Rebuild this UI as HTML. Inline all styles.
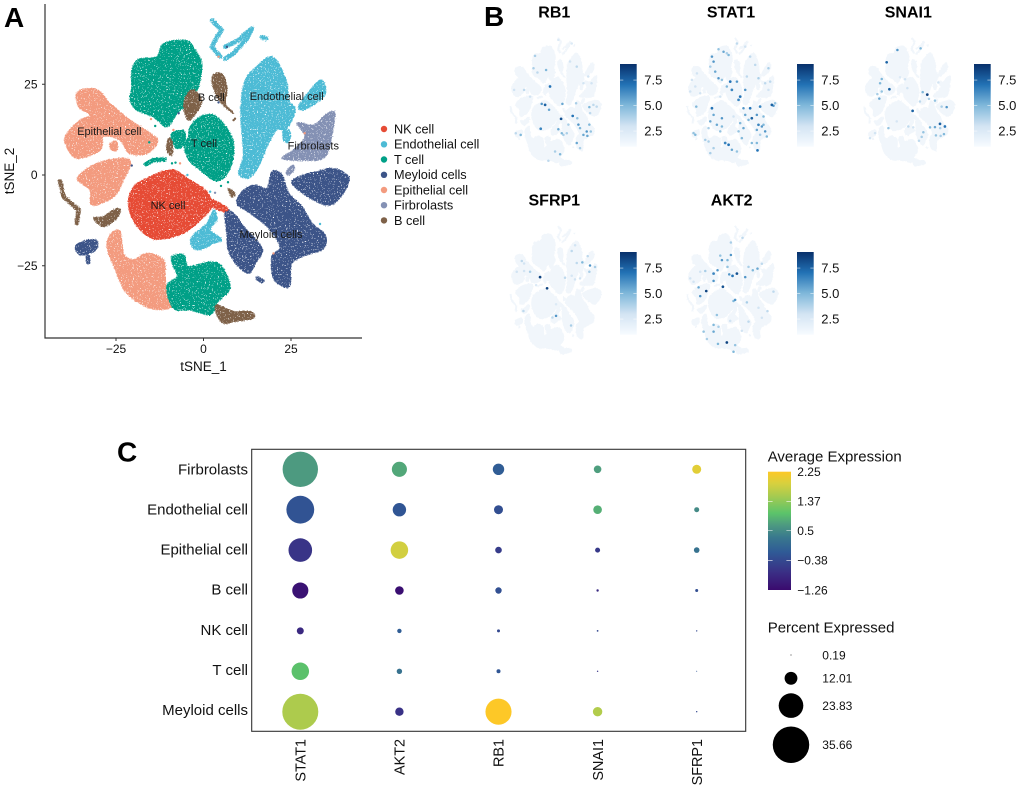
<!DOCTYPE html>
<html lang="en">
<head>
<meta charset="utf-8">
<title>Single-cell expression figure</title>
<style>
html,body{margin:0;padding:0;background:#fff;}
svg{display:block;font-family:"Liberation Sans",Arial,sans-serif;}
</style>
</head>
<body>
<svg id="figure" xmlns="http://www.w3.org/2000/svg" width="1020" height="791" viewBox="0 0 1020 791">
<defs>
<filter id="speckle" x="40" y="0" width="330" height="340" filterUnits="userSpaceOnUse" color-interpolation-filters="sRGB">
<feTurbulence type="fractalNoise" baseFrequency="0.75" numOctaves="2" seed="4" result="n"/>
<feDisplacementMap in="SourceGraphic" in2="n" scale="3" xChannelSelector="R" yChannelSelector="G" result="rough"/>
<feColorMatrix in="n" type="matrix" values="0 0 0 0 0 0 0 0 0 0 0 0 0 0 0 -12 0 0 0 8.8" result="mask"/>
<feComposite in="rough" in2="mask" operator="in"/>
</filter>
<filter id="roughEdge" x="500" y="25" width="520" height="340" filterUnits="userSpaceOnUse" color-interpolation-filters="sRGB">
<feTurbulence type="fractalNoise" baseFrequency="0.5" numOctaves="2" seed="7" result="n"/>
<feDisplacementMap in="SourceGraphic" in2="n" scale="2" xChannelSelector="R" yChannelSelector="G"/>
</filter>
<linearGradient id="blues-gradient" x1="0" y1="1" x2="0" y2="0">
<stop offset="0" stop-color="#f7fbff"/>
<stop offset="0.25" stop-color="#d3e4f3"/>
<stop offset="0.5" stop-color="#7fb8da"/>
<stop offset="0.75" stop-color="#2272b5"/>
<stop offset="1" stop-color="#08306b"/>
</linearGradient>
<linearGradient id="viridis-gradient" x1="0" y1="1" x2="0" y2="0">
<stop offset="0" stop-color="#3a0a6e"/>
<stop offset="0.15" stop-color="#3a2f85"/>
<stop offset="0.32" stop-color="#2f5a96"/>
<stop offset="0.45" stop-color="#3a7a8d"/>
<stop offset="0.55" stop-color="#4d9a80"/>
<stop offset="0.65" stop-color="#5cc46a"/>
<stop offset="0.8" stop-color="#a9cb4f"/>
<stop offset="0.9" stop-color="#d7d03e"/>
<stop offset="1" stop-color="#fdc827"/>
</linearGradient>
</defs>

<text x="4" y="27" font-size="28" font-weight="bold" fill="#000">A</text>
<text x="484" y="26" font-size="28" font-weight="bold" fill="#000">B</text>
<text x="117" y="461.5" font-size="28" font-weight="bold" fill="#000">C</text>

<g id="tsne-plot"></g>
<line x1="45" y1="4" x2="45" y2="338.5" stroke="#333" stroke-width="1.2"/>
<line x1="44.5" y1="338" x2="362" y2="338" stroke="#333" stroke-width="1.2"/>
<text x="203.5" y="371" font-size="13.5" text-anchor="middle" fill="#111">tSNE_1</text>
<text transform="translate(14,171) rotate(-90)" font-size="13.5" text-anchor="middle" fill="#111">tSNE_2</text>

<g font-size="12.7" fill="#111">
<g><circle cx="384" cy="129" r="3.2" fill="#E64B35"/><text x="394" y="133.4">NK cell</text></g>
<g><circle cx="384" cy="144.3" r="3.2" fill="#4DBBD5"/><text x="394" y="148.7">Endothelial cell</text></g>
<g><circle cx="384" cy="159.5" r="3.2" fill="#00A087"/><text x="394" y="163.9">T cell</text></g>
<g><circle cx="384" cy="174.8" r="3.2" fill="#3C5488"/><text x="394" y="179.2">Meyloid cells</text></g>
<g><circle cx="384" cy="190" r="3.2" fill="#F39B7F"/><text x="394" y="194.4">Epithelial cell</text></g>
<g><circle cx="384" cy="205.2" r="3.2" fill="#8491B4"/><text x="394" y="209.6">Firbrolasts</text></g>
<g><circle cx="384" cy="220.4" r="3.2" fill="#7E6148"/><text x="394" y="224.8">B cell</text></g>
</g>

<g font-size="11" fill="#1a1a1a" text-anchor="middle">
<text x="109.3" y="135">Epithelial cell</text>
<text x="204" y="147">T cell</text>
<text x="211.3" y="101">B cell</text>
<text x="286.7" y="100">Endothelial cell</text>
<text x="313.3" y="149.5">Firbrolasts</text>
<text x="168" y="209">NK cell</text>
<text x="271" y="238">Meyloid cells</text>
</g>

<g id="feature-plots"></g>
<g font-size="16" font-weight="bold" fill="#000" text-anchor="middle">
<text x="554.3" y="17.7">RB1</text>
<text x="731" y="17.7">STAT1</text>
<text x="908.3" y="17.7">SNAI1</text>
<text x="554.3" y="205.7">SFRP1</text>
<text x="731.7" y="205.7">AKT2</text>
</g>

<g id="dot-plot"></g>
<rect x="251.7" y="449.3" width="494" height="282" fill="none" stroke="#333" stroke-width="1.1"/>

<text x="767.7" y="461.7" font-size="15" fill="#111">Average Expression</text>
<rect x="768" y="471.7" width="23" height="118.3" fill="url(#viridis-gradient)"/>
<g id="avg-legend"></g>
<text x="767.7" y="632.7" font-size="15" fill="#111">Percent Expressed</text>
<g id="pct-legend"></g>
</svg>

<script>
/* ---------- Panel A data: cluster outlines in tSNE coordinates ---------- */
const nkOutlines = [
 [[-18.1,-1.8],[-9.5,1.4],[-3.8,-1.4],[0.95,-4.6],[2.4,-8.7],[-0.95,-12.4],[-5.7,-16],[-13.3,-17.7],[-18.1,-15.1],[-20.95,-10.5],[-21.4,-6.9],[-20.5,-4.1]],
 [[1.4,-6.4],[6.7,-9],[5.7,-10],[1.4,-8.2]]
];
const endoOutlines = [
 [[11.9,26.1],[15.7,30.3],[19,32.6],[21.4,30.7],[23.8,25.2],[24.3,20.6],[26.2,17.9],[23.8,12.8],[20.95,12.4],[18.1,7.8],[15.7,2.3],[12.9,-0.9],[10,0.5],[11.4,5],[10.95,11.5],[10.7,18.8]],
 [[27.6,19.7],[33.3,26.1],[34.8,22.5],[31.4,19.3],[28,17.9]],
 [[22.9,12.4],[24.8,11.9],[24.3,9.2],[22.9,9.6]],
 [[2.9,-9.6],[3.8,-12.4],[1.9,-15.1],[5.2,-17.9],[2.9,-18.8],[-0.95,-20.6],[-3.3,-19.7],[-3.3,-17],[0.95,-13.3]]
];
const endoStrands = [
 [[2.4,42.6],[5.2,39.9],[3.8,38],[2.4,35.3],[4.8,32.6]],
 [[6.2,35.3],[10,37.2],[13.8,40.4],[12.4,37.6],[8.6,33.5],[6.2,32]],
 [[16.7,38],[17.9,37.6]]
];
const tcellOutlines = [
 [[-20.5,28.9],[-18.6,31.8],[-13.3,32.6],[-11.4,36.2],[-4.8,37],[-2.4,34.4],[-0.5,30.7],[-1,26.1],[-1.9,23.4],[-4.8,22.5],[-5.7,18.8],[-7.6,17],[-10.5,13.3],[-14.3,16],[-19,17.9],[-21,20.6],[-20.5,24.3]],
 [[-3.8,13.3],[-1,16],[2.9,16.5],[6.7,12.8],[8.6,8.7],[8.1,3.2],[5.7,-0.9],[2.9,-1.4],[-1,1.4],[-4.2,4.1],[-5.5,7.8],[-4.3,10.5]],
 [[-9,11.5],[-5.7,12.2],[-5.4,8.7],[-7.6,7.3],[-9,9.6]],
 [[-9,-22.5],[-5.7,-22],[-4.3,-25.2],[1.9,-23.9],[5.2,-25.2],[7.6,-30.7],[5.7,-33.5],[3.8,-35.3],[1.9,-38.5],[-3.8,-37.2],[-8.6,-36.7],[-10.5,-30.7],[-7.6,-28],[-8.6,-25.2]]
];
const tcellStrands = [
 [[-16.5,3],[-14.3,4.1],[-11.2,4.3]]
];
const myeloidOutlines = [
 [[25.2,-1.8],[28.6,0],[32.4,0.9],[37.1,1.8],[41.4,-0.5],[40,-5],[36.2,-8.3],[31.4,-6.9],[27.1,-4.1]],
 [[11.4,-4.2],[14.8,-2.8],[18.1,-3.7],[19.5,0.9],[22.4,0],[24.3,-5],[28.1,-8.7],[31,-13.3],[34.8,-16.5],[34.3,-20.2],[29.5,-22],[25.2,-24.3],[24.8,-29.8],[23.3,-30.9],[20,-28.4],[19.5,-22.5],[21.9,-19.7],[18.1,-14.2],[13.3,-10.5],[9.5,-7.8]],
 [[6.2,-9.6],[9.5,-11.5],[11.4,-14.2],[16.7,-20.2],[14.8,-24.3],[12.9,-27],[9.5,-24.8],[7.1,-20.6],[6.7,-16]],
 [[-36.4,-19.3],[-31,-17.7],[-30.7,-20.6],[-35.2,-22]]
];
const myeloidStrands = [
 [[-33,-22.5],[-33,-24]],
 [[15.5,-28.5],[16.8,-29.2]]
];
const epiOutlines = [
 [[-36,22.9],[-30.5,23.5],[-26.7,19.7],[-20.95,15.1],[-15.2,11.5],[-13.1,9.2],[-16,6],[-21.2,6],[-23.8,9.6],[-28.6,10.6],[-29.5,6.9],[-35.7,4.6],[-38.6,6.9],[-39.5,10.6],[-35.7,14.8],[-32.4,16.5],[-35.7,18.8]],
 [[-26.7,8.7],[-24.8,9.2],[-24.8,6.9],[-26.2,6.9]],
 [[-36,-0.9],[-30.5,3.2],[-22.9,4.6],[-20.9,3.2],[-22.9,-1.4],[-25.7,-6],[-31.9,-8.3],[-32.4,-4.1]],
 [[-26.2,-16],[-23.8,-15.6],[-22.9,-21.6],[-20,-23.4],[-16.2,-21.6],[-11.4,-23.4],[-10.95,-28],[-10.5,-32.6],[-9,-36.3],[-15.2,-36.7],[-21.9,-32.6],[-24.8,-27],[-27.6,-19.7]]
];
const fibroOutlines = [
 [[37.4,17.4],[37.1,13.3],[34.7,5],[27.6,4.1],[22.4,4.6],[25.7,6.9],[29,10.6],[26.7,14.3],[31.4,13.8],[34.8,16.5]],
 [[23.6,0.6],[25.2,2.6],[26,2],[24.6,0]]
];
const bcellOutlines = [
 [[-2.9,23.4],[-0.5,20.6],[-1.9,17.4],[-4.3,15.1],[-5.7,18.8],[-4.8,22]],
 [[3.3,28],[5.7,27.5],[6.7,23.4],[6.2,19.7],[8.6,17],[6.7,18.3],[3.8,21.6],[2.4,26.1]],
 [[-10,10],[-9,9.2],[-9,5.5],[-10.5,6.9]],
 [[-31.4,-11.9],[-28.6,-11.5],[-25.7,-9.6],[-23.8,-9.6],[-24.8,-11.9],[-28.6,-14.2]],
 [[3.8,-35.8],[8.6,-37.6],[13.3,-37.6],[14.3,-39.4],[8.6,-40.4],[5.7,-40.8],[3.8,-38.5]],
 [[7.1,-3.7],[9,-5],[8.1,-6]]
];
const bcellStrands = [
 [[-41,-1.8],[-40,-6],[-35.7,-9.6],[-36.2,-13.3]]
];
const mainXTicks = [-25, 0, 25];
const mainYTicks = [25, 0, -25];
const strayEpi = [[4.3,32.6],[28.9,11.5],[20,-21.6],[-15,15.4],[-6.7,3.2],[-8.6,12.4]];
const strayMyeloid = [[6.7,35.3],[-20.5,2.6],[-7.1,17],[4.3,20]];
const strayEndo = [[-4.6,0],[1.9,-4.6],[33.3,-13.5]];
const strayFibro = [[3.3,-4.9]];
const strayB = [[8.6,15.1],[9,15.5]];
const strayT = [[-13.8,13.5],[-9,3.2],[-8,3.4],[-15.5,9],[5,-3],[7,-2]];

/* ---------- Panel B data: expressing cells as [tSNE x, tSNE y, expression] ---------- */
const rb1Spots = [[-18.6,30.9,4],[-20,22.8,4],[-8.5,21.7,5],[-16.4,20,3.5],[-4.9,10.9,7],[-9.4,-1.1,7.5],[-12.5,-0.4,6],[-5.8,-4.3,5.5],[-13.4,-16.7,6.5],[5.2,-10.2,8],[6.4,-0.4,5.5],[15.8,-8.3,7],[20,-9.8,4.5],[18.9,0,4],[31,-2.6,5],[34.7,-1.1,3.5],[37.7,-2.2,3.5],[31.7,-6.5,3.5],[21,-14,6],[22.5,-16.3,5],[25.6,-20.7,5.5],[28.6,-18.5,6],[31,-14,5],[29.2,-21.3,5.5],[32.3,-18.5,4.5],[19.5,-26,5.5],[22.5,-29.3,4],[5.8,-19.6,5],[2.7,-17,5.5],[7.3,-20.7,4],[10.4,-19.6,4],[4.3,-33.3,5],[-0.3,-31.5,4],[-6.4,-37.6,3.5],[-31.7,-20.7,5],[-36.2,-19.6,3.5],[-28.6,8.7,3.5],[-37.7,8.7,3],[-23.1,4.3,3],[30,17.4,3],[25.6,13,3],[14.9,39,2.5],[2.7,41.3,2.5],[19.5,23.9,3.5],[13.4,27.2,3],[33,13,3],[11.9,-14,4]];
const stat1Spots = [[-18.5,30.4,6],[-17,27.1,6],[-20,23.9,4],[-7.9,33.6,5.5],[-12.5,35.2,4.5],[-3.3,31.5,5],[-4.9,32.6,4],[-15.5,20.6,5.5],[-12.5,16.3,6],[-9.4,15.2,4.5],[-1.8,14.1,7],[4.3,14.1,6],[-0.3,8.7,6.5],[-4.9,10.9,5],[11.9,8.7,6],[7.3,4.3,7],[5.8,2.2,6.5],[10.3,-3.3,6],[16.4,-3.3,7],[11.9,-7.6,5.5],[17.9,-9.8,7.5],[14.9,-10.9,5],[22.5,-7.6,6],[25.5,-2.2,6.5],[36.2,-1.1,7.5],[37.7,-1.7,6],[39.2,0,4.5],[28.6,-8.7,5],[24,-14.1,6.5],[27.1,-15.2,6],[22.5,-17.4,5.5],[30.1,-18.4,6],[31.6,-21.7,5],[25.5,-20.6,4],[28.6,-14.1,5],[23.1,-30.8,7],[17.9,-26,5],[22.5,-26,5],[10.3,-16.3,5.5],[7.3,-13,5],[5.8,-18.4,4.5],[8.8,-22.8,5],[-6.4,-26,6.5],[-3.3,-27.1,7],[-0.3,-30.4,5.5],[4.3,-31.5,4.5],[-10.9,-18.4,4.5],[-9.4,-15.2,5],[-14,-14.1,5.5],[-9.4,-9.8,6],[-18.5,-3.3,7],[-17,-7.6,5.5],[-20,-11.9,5.5],[-21.6,-16.3,4],[-33.7,-20.6,5],[-35.3,-19.5,4.5],[-32.8,-2.2,5],[-24.6,-23.9,4],[-21.6,-25,4],[-17,-29.3,4],[-20,-32.6,4],[-32.2,19.5,3],[-36.8,15.2,3],[-33.7,10.9,3],[-38.3,7.6,3],[-29.2,6.5,3],[16.4,30.4,3.5],[21,25,3.5],[24,16.3,4],[13.4,17.4,3.5],[33.1,22.8,4],[30.1,13,3.5],[34.7,14.1,3.5],[33.1,8.7,3],[4.3,39,3.5],[11.9,36.9,3],[-10.9,4.3,3],[1.2,-8.7,3]];
const snai1Spots = [[-10.6,34.7,6],[-20.4,26.7,7.5],[-24.9,15.8,5],[-26.4,13,5],[-17.9,9.1,7.5],[-24.9,7.6,4.5],[-28.9,5.9,4],[-27.1,3,5.5],[10.6,35.8,5],[16.7,5.6,8.5],[12.5,7.2,5],[18.2,2.8,4],[23.7,1.7,4.5],[10,1.1,3.5],[3.3,-5,7.5],[34.4,-2.6,6],[29.8,-2.2,4],[28.3,-13.5,7.5],[32.8,-15.2,7],[23.7,-15.6,5.5],[19.2,-15.8,5],[28.5,-16.3,4],[31.9,-20.2,5],[24.6,-21,4.5],[28.9,-21.3,4],[13.1,-19,4.5],[11.6,-22,4],[9.1,-24.5,3.5],[-0.6,-15.2,3.5],[3.9,-15.8,3],[-18.8,-16.3,4.5],[-11.2,-11.9,2.8],[-1.5,9.8,3],[-8.2,16.9,2.5],[-3.6,15.6,3],[26.8,13.5,3],[-31,-19.5,3],[-35.6,-22.8,3]];
const sfrp1Spots = [[-14,9.2,8.5],[-7.6,1.9,8.5],[31.6,16.8,6],[36.2,15.8,4],[24.6,18.8,5],[19.5,18.4,3.5],[29.5,22.9,3.5],[31,12.7,4],[14.9,26.2,3.5],[18,30,3],[22.5,8.4,3],[17.9,7.7,3],[8.8,8.8,3.5],[14.9,10.1,2.8],[0.6,-16.1,6],[-2.7,-17.2,3.5],[14.3,-22.4,4],[0.6,-8.5,2.5],[-29.2,-12.9,3.5],[-30.7,19.7,3.5],[-28.6,18.1,3],[-35.3,12.7,3],[-28.6,13.2,3],[-23.1,12.7,4],[-17.6,4,2.5]];
const akt2Spots = [[-1.2,31.8,4],[9.4,34.9,3.5],[-9.4,20.3,6],[-10.9,23.2,4.5],[-1.2,23.6,6],[-4.3,20.3,5],[-4.3,15.9,4.5],[-13.4,13.7,6],[-17,11.5,6.5],[-2.7,11,6],[0.3,10,7],[4.3,11.5,8],[11.9,9.2,6],[-17,6.7,6],[-8.5,2.9,8],[-23.7,0.1,8.5],[-29.2,-3.2,6],[-30.7,2.5,5.5],[-24.6,13.2,4],[2.7,-5.7,6],[1.2,-6.4,5],[13.4,-7.3,4],[23.1,14.7,5.5],[18.8,13.7,5],[27.1,17.9,3.5],[14.9,15.9,4],[-14,-15.5,4.5],[-17,-22,5],[-17,-26.4,5.5],[-26.1,-26.4,4.5],[-23.1,-31.2,4],[-4.9,-33.5,8.5],[-13,-34.4,5],[1.2,-39.5,5],[2.7,-35.2,4.5],[-12.5,-23.2,4],[32.2,-13,3.5],[27.1,-17.3,3],[14.9,-19.9,3.5],[-1.8,-19.4,3],[37.7,-0.3,3.5],[8.8,-25.8,3],[24,-10.8,3],[-35.3,6.2,3],[-38.3,8.4,3],[-29.2,12.7,3]];
const featureTicks = [7.5, 5, 2.5];
const featureTickLabels = ["7.5", "5.0", "2.5"];

/* ---------- Panel C data ---------- */
const dotRows = ["Firbrolasts","Endothelial cell","Epithelial cell","B cell","NK cell","T cell","Meyloid cells"];
const dotGenes = ["STAT1","AKT2","RB1","SNAI1","SFRP1"];
const pctStat1 = [34.6,27,22.8,15.3,6.2,16.7,35.2];
const pctAkt2 = [14.3,12.6,16.7,7.8,3.6,4.6,7.6];
const pctRb1 = [10.6,8.2,5.8,5.6,2.2,3.2,25.3];
const pctSnai1 = [6.8,7.8,4.2,1.6,1,0.6,8.6];
const pctSfrp1 = [8.2,4.2,4.8,2.2,0.6,0.2,0.6];
const avgStat1 = [0.67,-0.24,-0.66,-1.15,-0.84,1.0,1.58];
const avgAkt2 = [0.78,-0.21,1.86,-1.2,-0.1,0.21,-0.7];
const avgRb1 = [-0.1,-0.31,-0.56,-0.28,-0.38,-0.21,2.25];
const avgSnai1 = [0.7,0.85,-0.59,-0.8,-0.38,-0.66,1.62];
const avgSfrp1 = [2.0,0.5,0.21,-0.31,-0.38,-0.2,-0.38];
const avgTicks = [2.25, 1.37, 0.5, -0.38, -1.26];
const avgTickLabels = ["2.25","1.37","0.5","\u22120.38","\u22121.26"];
const pctTicks = [0.19, 12.01, 23.83, 35.66];
const pctTickLabels = ["0.19","12.01","23.83","35.66"];

/* ---------- helpers ---------- */
const NS = "http://www.w3.org/2000/svg";
function mk(parent, tag, props) {
  const el = document.createElementNS(NS, tag);
  for (const k in props) el.setAttribute(k, props[k]);
  parent.appendChild(el);
  return el;
}
/* closed Catmull-Rom spline through the outline vertices */
function blobPath(pts, fx, fy) {
  const n = pts.length;
  const P = pts.map(p => [fx(p[0]), fy(p[1])]);
  let d = "M" + P[0][0].toFixed(1) + " " + P[0][1].toFixed(1);
  for (let i = 0; i < n; i++) {
    const p0 = P[(i - 1 + n) % n], p1 = P[i], p2 = P[(i + 1) % n], p3 = P[(i + 2) % n];
    const c1 = [p1[0] + (p2[0] - p0[0]) / 6, p1[1] + (p2[1] - p0[1]) / 6];
    const c2 = [p2[0] - (p3[0] - p1[0]) / 6, p2[1] - (p3[1] - p1[1]) / 6];
    d += "C" + c1[0].toFixed(1) + " " + c1[1].toFixed(1) + " " + c2[0].toFixed(1) + " " + c2[1].toFixed(1) + " " + p2[0].toFixed(1) + " " + p2[1].toFixed(1);
  }
  return d + "Z";
}
function linePath(pts, fx, fy) {
  return pts.map((p, i) => (i ? "L" : "M") + fx(p[0]).toFixed(1) + " " + fy(p[1]).toFixed(1)).join("");
}
function hex2rgb(h) { return [1, 3, 5].map(i => parseInt(h.substr(i, 2), 16)); }
function ramp(stops, t) {
  t = Math.max(0, Math.min(1, t));
  for (let i = 1; i < stops.length; i++) {
    if (t <= stops[i][0]) {
      const a = stops[i - 1], b = stops[i], f = (t - a[0]) / (b[0] - a[0]);
      const A = hex2rgb(a[1]), B = hex2rgb(b[1]);
      return "rgb(" + A.map((v, j) => Math.round(v + (B[j] - v) * f)).join(",") + ")";
    }
  }
  return stops[stops.length - 1][1];
}
const bluesStops = [[0,"#f7fbff"],[0.25,"#d3e4f3"],[0.5,"#7fb8da"],[0.75,"#2272b5"],[1,"#08306b"]];
const viridisStops = [[0,"#3a0a6e"],[0.15,"#3a2f85"],[0.32,"#2f5a96"],[0.45,"#3a7a8d"],[0.55,"#4d9a80"],[0.65,"#5cc46a"],[0.8,"#a9cb4f"],[0.9,"#d7d03e"],[1,"#fdc827"]];

/* ---------- Panel A ---------- */
const mainX = t => 203.5 + 3.5 * t;
const mainY = t => 175 - 3.63 * t;
const tsnePlot = document.getElementById("tsne-plot");
const clusterLayer = mk(tsnePlot, "g", {filter: "url(#speckle)"});



function drawCluster(outlines, strands, color) {
  outlines.forEach(o => {
    const p = mk(clusterLayer, "path", {d: blobPath(o, mainX, mainY), fill: color, stroke: color, "stroke-width": 1.2});
    
    
  });
  strands.forEach(s => {
    const p = mk(clusterLayer, "path", {d: linePath(s, mainX, mainY), fill: "none", stroke: color, "stroke-width": 4.5, "stroke-linecap": "round", "stroke-linejoin": "round"});
    
    
  });
}
drawCluster(epiOutlines, [], "#F39B7F");
drawCluster(tcellOutlines, tcellStrands, "#00A087");
drawCluster(endoOutlines, endoStrands, "#4DBBD5");
drawCluster(myeloidOutlines, myeloidStrands, "#3C5488");
drawCluster(fibroOutlines, [], "#8491B4");
drawCluster(nkOutlines, [], "#E64B35");
drawCluster(bcellOutlines, bcellStrands, "#7E6148");

function drawStrays(list, color) {
  list.forEach(p => {
    const c = mk(tsnePlot, "circle", {cx: mainX(p[0]), cy: mainY(p[1]), r: 1.2, fill: color});
    
    
  });
}
drawStrays(strayEpi, "#F39B7F");
drawStrays(strayMyeloid, "#3C5488");
drawStrays(strayEndo, "#4DBBD5");
drawStrays(strayFibro, "#8491B4");
drawStrays(strayB, "#7E6148");
drawStrays(strayT, "#00A087");

mainXTicks.forEach(v => {
  const tick = mk(tsnePlot, "line", {x1: mainX(v), x2: mainX(v), y1: 338, y2: 341, stroke: "#333"});
  
  
  const label = mk(tsnePlot, "text", {x: mainX(v), y: 353, "font-size": 12, "text-anchor": "middle", fill: "#111"});
  
  
  label.textContent = String(v).replace("-", "\u2212");
});
mainYTicks.forEach(v => {
  const tick = mk(tsnePlot, "line", {x1: 42, x2: 45, y1: mainY(v), y2: mainY(v), stroke: "#333"});
  
  
  const label = mk(tsnePlot, "text", {x: 37.5, y: mainY(v) + 4.2, "font-size": 12, "text-anchor": "end", fill: "#111"});
  
  
  label.textContent = String(v).replace("-", "\u2212");
});

/* ---------- Panel B ---------- */
const featureSeries = [rb1Spots, stat1Spots, snai1Spots, sfrp1Spots, akt2Spots];
const featureRoot = document.getElementById("feature-plots");
const allOutlines = [epiOutlines, tcellOutlines, endoOutlines, myeloidOutlines, fibroOutlines, nkOutlines, bcellOutlines];
const allStrands = [tcellStrands, endoStrands, myeloidStrands, bcellStrands];
const barMax = 9.07, barMin = 0.96;
featureSeries.forEach((spots, i) => {
  const col = i % 3, row = Math.floor(i / 3);
  const fx = t => 555.4 + 176.8 * col + 1.095 * t;
  const fy = t => 103.2 + 188 * row - 1.532 * t;
  const sil = mk(featureRoot, "g", {filter: "url(#roughEdge)"});
  
  
  allOutlines.forEach(group => group.forEach(o => {
    mk(sil, "path", {d: blobPath(o, fx, fy), fill: "#f1f6fb", stroke: "#f1f6fb", "stroke-width": 1.6});
  }));
  allStrands.forEach(group => group.forEach(s => {
    mk(sil, "path", {d: linePath(s, fx, fy), fill: "none", stroke: "#f1f6fb", "stroke-width": 2});
  }));
  spots.slice().sort((a, b) => a[2] - b[2]).forEach(s => {
    const c = mk(featureRoot, "circle", {cx: fx(s[0]), cy: fy(s[1]), r: s[2] > 6 ? 1.35 : 1.25, fill: ramp(bluesStops, (s[2] - barMin) / (barMax - barMin))});
    
    
  });
  const bx = 620 + 177 * col, bt = 64 + 188 * row;
  const barY = v => bt + (barMax - v) * 10.2;
  const bar = mk(featureRoot, "rect", {x: bx, y: bt, width: 16.7, height: 82.7, fill: "url(#blues-gradient)"});
  
  
  featureTicks.forEach((v, j) => {
    const a = mk(featureRoot, "path", {d: "M" + bx + " " + barY(v) + "h3.3M" + (bx + 13.4) + " " + barY(v) + "h3.3", stroke: "#fff", "stroke-width": 0.6, opacity: 0.8});
    
    
    const t = mk(featureRoot, "text", {x: bx + 24.3, y: barY(v) + 4.7, "font-size": 13, fill: "#111"});
    
    
    t.textContent = featureTickLabels[j];
  });
});

/* ---------- Panel C ---------- */
const dotRoot = document.getElementById("dot-plot");
const pctByGene = [pctStat1, pctAkt2, pctRb1, pctSnai1, pctSfrp1];
const avgByGene = [avgStat1, avgAkt2, avgRb1, avgSnai1, avgSfrp1];
const colX = i => 300.3 + 99.1 * i;
const rowY = j => 469.3 + 40.4 * j;
const pctR = p => 0.4 + 0.5 * p;
const avgT = v => (v + 1.26) / 3.51;

dotGenes.forEach((g, i) => {
  dotRows.forEach((r, j) => {
    const c = mk(dotRoot, "circle", {cx: colX(i), cy: rowY(j), r: pctR(pctByGene[i][j]), fill: ramp(viridisStops, avgT(avgByGene[i][j]))});
    
    
  });
  const t = mk(dotRoot, "text", {transform: "translate(" + (colX(i) + 5.2) + ",739) rotate(-90)", "font-size": 14.4, "text-anchor": "end", fill: "#111"});
  
  
  t.textContent = g;
});
dotRows.forEach((r, j) => {
  const t = mk(dotRoot, "text", {x: 248, y: 474.4 + 40.1 * j, "font-size": 15, "text-anchor": "end", fill: "#111"});
  
  
  t.textContent = r;
});

const avgRoot = document.getElementById("avg-legend");
const avgY = v => 471.7 + (2.25 - v) * (118.3 / 3.51);
avgTicks.forEach((v, j) => {
  if (j > 0 && j < avgTicks.length - 1) {
    const a = mk(avgRoot, "path", {d: "M768 " + avgY(v) + "h4.6M786.4 " + avgY(v) + "h4.6", stroke: "#fff", "stroke-width": 0.7, opacity: 0.8});
    
    
  }
  const t = mk(avgRoot, "text", {x: 797.3, y: avgY(v) + 4.3, "font-size": 12, fill: "#111"});
  
  
  t.textContent = avgTickLabels[j];
});

const pctRoot = document.getElementById("pct-legend");
let legendY = 655, prevR = 0;
pctTicks.forEach((p, j) => {
  const r = pctR(p);
  if (j > 0) legendY += Math.max(23.3, prevR + r + 8.6);
  const c = mk(pctRoot, "circle", {cx: 791, cy: legendY, r: r, fill: "#000"});
  
  
  const t = mk(pctRoot, "text", {x: 822.3, y: legendY + 4.3, "font-size": 12, fill: "#111"});
  
  
  t.textContent = pctTickLabels[j];
  prevR = r;
});
</script>
</body>
</html>
